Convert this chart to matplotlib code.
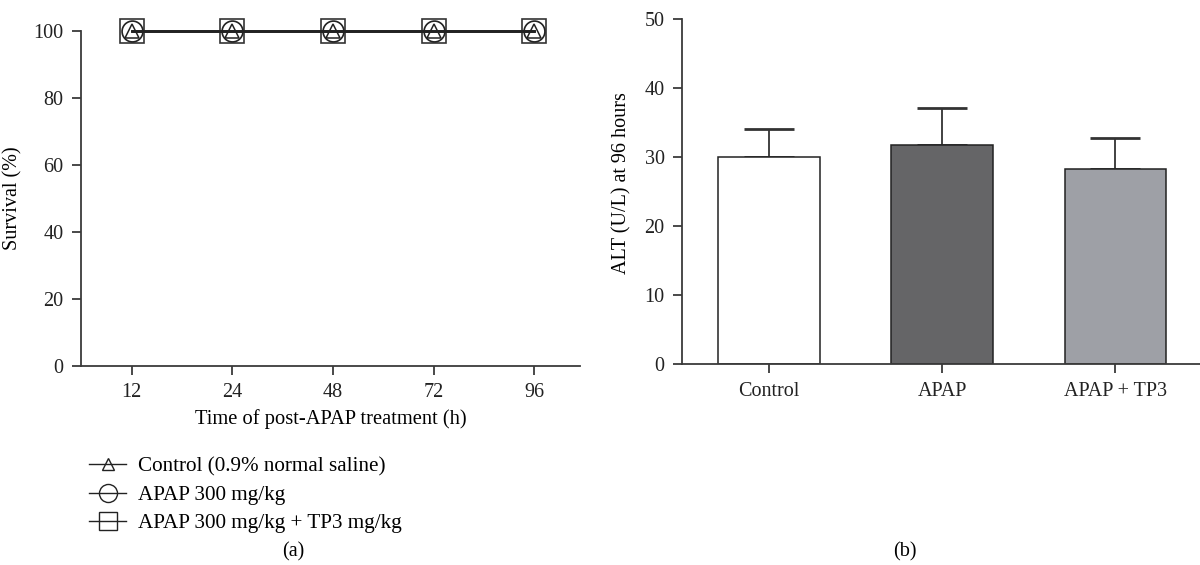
import matplotlib
matplotlib.use("Agg")
import matplotlib.pyplot as plt
from matplotlib.lines import Line2D

plt.rcParams['font.family'] = ['Liberation Serif', 'DejaVu Serif']

# ---- data ----
time_labels = ['12', '24', '48', '72', '96']
control_surv = [100, 100, 100, 100, 100]
apap_surv = [100, 100, 100, 100, 100]
apap_tp3_surv = [100, 100, 100, 100, 100]
series_labels = ['Control (0.9% normal saline)', 'APAP 300 mg/kg', 'APAP 300 mg/kg + TP3 mg/kg']

groups = ['Control', 'APAP', 'APAP + TP3']
alt_mean = [30.0, 31.7, 28.3]
alt_err = [4.1, 5.4, 4.5]
bar_colors = ['#ffffff', '#656567', '#9ea0a6']

FS = 14.5
SP = '#3a3a3a'

fig = plt.figure(figsize=(12, 5.65), dpi=100)

# ---- panel (a) ----
ax1 = fig.add_axes([0.0675, 0.3527, 0.416, 0.5924])
x = list(range(len(time_labels)))
ax1.plot(x, apap_tp3_surv, color='#222222', lw=1.8, marker='s', ms=17, mfc='none', mec='#333333', mew=1.2, clip_on=False, zorder=3)
ax1.plot(x, apap_surv, color='#222222', lw=1.8, marker='o', ms=15, mfc='none', mec='#222222', mew=1.2, clip_on=False, zorder=3)
ax1.plot(x, control_surv, color='#222222', lw=1.8, marker='^', ms=10, mfc='none', mec='#222222', mew=1.1, clip_on=False, zorder=3)
ax1.set_xlim(-0.504, 4.457)
ax1.set_ylim(0, 100)
ax1.set_xticks(x)
ax1.set_xticklabels(time_labels)
ax1.set_yticks([0, 20, 40, 60, 80, 100])
ax1.set_xlabel('Time of post-APAP treatment (h)', fontsize=14.8, labelpad=5)
ax1.set_ylabel('Survival (%)', fontsize=FS, labelpad=8)

# ---- panel (b) ----
ax2 = fig.add_axes([0.5683, 0.3552, 0.4317, 0.6112])
xb = list(range(len(groups)))
ax2.bar(xb, alt_mean, width=0.585, color=bar_colors, edgecolor='#222222', linewidth=1.1, zorder=2)
ax2.errorbar(xb, alt_mean, yerr=[[0] * len(alt_err), alt_err], fmt='none', ecolor='#333333',
             elinewidth=1.3, capsize=18, capthick=2.0, zorder=1)
ax2.set_xlim(-0.503, 2.49)
ax2.set_ylim(0, 50)
ax2.set_xticks(xb)
ax2.set_xticklabels(groups)
ax2.set_yticks([0, 10, 20, 30, 40, 50])
ax2.set_ylabel('ALT (U/L) at 96 hours', fontsize=FS, labelpad=8)
ax2.yaxis.set_label_coords(-0.098, 0.524)

for ax in (ax1, ax2):
    for s in ('top', 'right'):
        ax.spines[s].set_visible(False)
    for s in ('left', 'bottom'):
        ax.spines[s].set_color(SP)
        ax.spines[s].set_linewidth(1.3)
    ax.tick_params(direction='out', length=6.5, width=1.3, color=SP, labelsize=FS, pad=6, labelcolor='#222222')

# legend for panel (a)
handles = [
    Line2D([], [], color='#222222', lw=1.0, marker='^', ms=8, mfc='none', mec='#222222'),
    Line2D([], [], color='#222222', lw=1.0, marker='o', ms=13, mfc='none', mec='#222222'),
    Line2D([], [], color='#222222', lw=1.0, marker='s', ms=13, mfc='none', mec='#222222'),
]
fig.legend(handles, series_labels, loc='upper left', bbox_to_anchor=(0.0655, 0.21), frameon=False,
           fontsize=15.2, handlelength=1.75, handletextpad=0.55, labelspacing=0.4, borderpad=0)

fig.text(0.244, 0.023, '(a)', ha='center', va='center', fontsize=FS)
fig.text(0.754, 0.023, '(b)', ha='center', va='center', fontsize=FS)

fig.savefig('out.png', dpi=100)
